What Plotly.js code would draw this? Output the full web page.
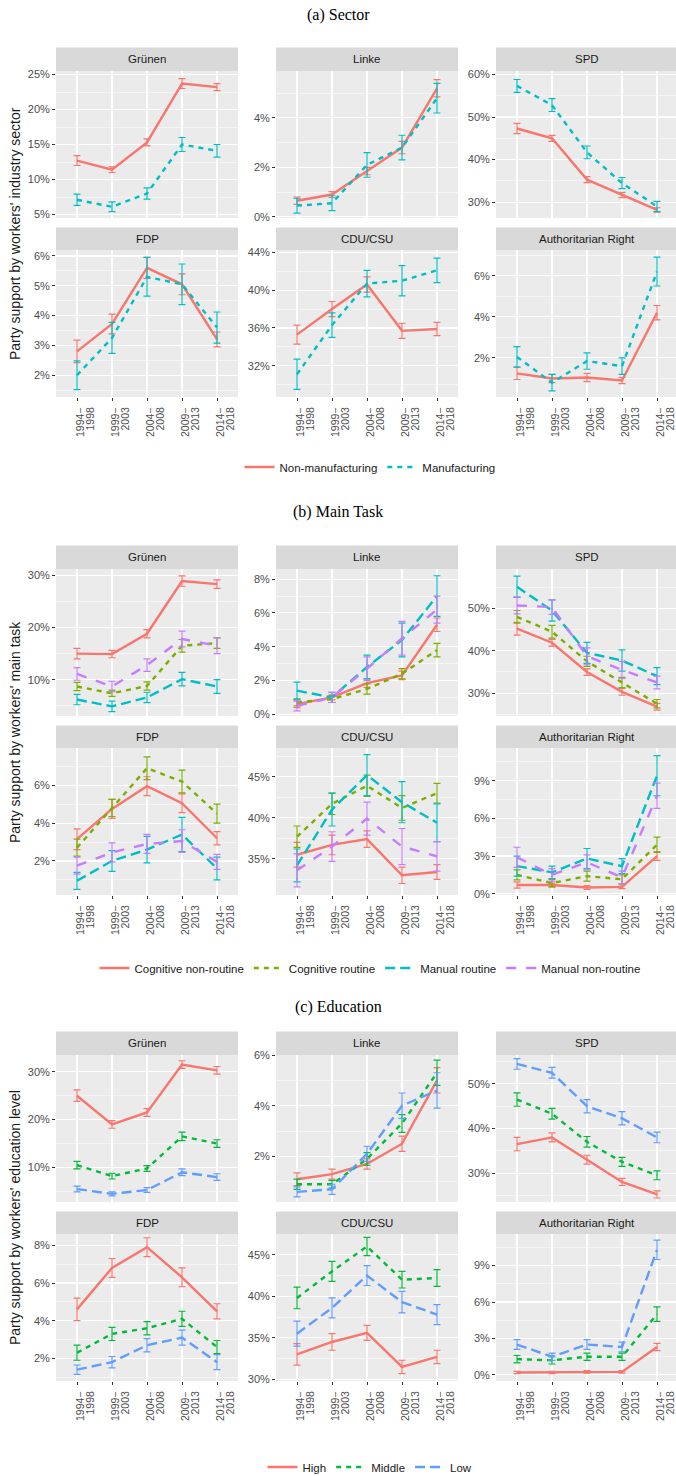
<!DOCTYPE html>
<html><head><meta charset="utf-8">
<script src="https://cdn.plot.ly/plotly-3.0.1.min.js"></script>
<style>html,body{margin:0;padding:0;overflow:hidden;background:#fff}#chart{width:680px;height:1490px}</style>
</head><body><div id="chart"></div>
<script>
// ---------- DATA ----------
const periods = ["1994-1998","1999-2003","2004-2008","2009-2013","2014-2018"];
const periodLabels = ["1994−<br>1998","1999−<br>2003","2004−<br>2008","2009−<br>2013","2014−<br>2018"];
const parties = ["Grünen","Linke","SPD","FDP","CDU/CSU","Authoritarian Right"];

// (a) Sector — rows follow `parties`, values in percent
const sectorGroups = ["Non-manufacturing","Manufacturing"];
const nonManufacturing = [
  [12.7,11.4,15.3,23.7,23.2],[0.65,0.9,1.85,2.8,5.2],[47.3,45.0,35.3,31.7,28.2],
  [2.8,3.72,5.6,5.05,3.2],[35.3,38.0,40.6,35.7,35.9],[1.25,1.0,1.05,0.9,4.2]];
const nonManufacturingErr = [
  [0.7,0.4,0.5,0.7,0.5],[0.15,0.12,0.15,0.25,0.35],[1.2,0.7,0.7,0.6,0.5],
  [0.38,0.33,0.35,0.35,0.25],[1.0,0.8,0.8,0.8,0.7],[0.3,0.2,0.2,0.15,0.35]];
const manufacturing = [
  [7.1,6.1,8.0,15.0,14.1],[0.45,0.55,2.1,2.8,4.8],[57.3,52.8,41.7,34.5,29.0],
  [2.0,3.25,5.3,5.05,3.6],[31.1,36.3,40.7,41.0,42.1],[2.05,0.8,1.85,1.6,6.2]];
const manufacturingErr = [
  [0.8,0.7,0.8,1.0,0.9],[0.3,0.3,0.5,0.5,0.6],[1.5,1.5,1.5,1.3,1.2],
  [0.48,0.52,0.65,0.68,0.52],[1.6,1.3,1.4,1.6,1.3],[0.5,0.4,0.4,0.4,0.7]];

// (b) Main task
const taskGroups = ["Cognitive non-routine","Cognitive routine","Manual routine","Manual non-routine"];
const cognitiveNonRoutine = [
  [15.0,14.9,18.8,28.9,28.3],[0.6,1.0,1.85,2.3,5.3],[45.2,41.9,35.0,30.3,26.8],
  [3.15,4.75,5.95,5.05,3.2],[35.5,36.7,37.4,33.0,33.4],[0.7,0.7,0.5,0.55,3.0]];
const cognitiveNonRoutineErr = [
  [1.0,0.7,0.8,1.0,0.8],[0.2,0.15,0.25,0.25,0.4],[1.5,0.8,0.8,0.8,0.8],
  [0.55,0.5,0.5,0.5,0.35],[1.5,1.2,1.0,1.0,0.9],[0.25,0.15,0.15,0.15,0.35]];
const cognitiveRoutine = [
  [8.7,7.4,8.8,16.5,17.0],[0.7,0.9,1.5,2.4,3.8],[48.0,44.5,37.5,32.5,27.5],
  [2.7,4.8,6.9,6.2,4.5],[37.7,41.7,43.9,41.2,43.0],[1.5,0.85,1.4,1.15,3.9]];
const cognitiveRoutineErr = [
  [0.8,0.6,0.8,1.2,1.0],[0.2,0.2,0.3,0.3,0.4],[1.5,1.5,1.2,1.2,1.0],
  [0.45,0.45,0.6,0.6,0.5],[1.3,1.3,1.3,1.5,1.2],[0.4,0.3,0.4,0.35,0.6]];
const manualRoutine = [
  [6.2,4.9,6.6,10.1,8.7],[1.4,1.0,2.8,4.4,7.0],[55.1,49.5,39.5,37.7,34.0],
  [0.95,2.0,2.6,3.4,1.6],[34.2,41.0,45.2,41.9,39.4],[2.2,1.7,2.8,2.2,9.4]];
const manualRoutineErr = [
  [1.0,1.0,1.0,1.3,1.3],[0.5,0.3,0.7,1.0,1.2],[2.5,2.5,2.5,2.5,2.0],
  [0.45,0.55,0.7,0.9,0.6],[2.0,2.0,2.5,2.5,2.3],[0.8,0.5,0.8,0.6,1.6]];
const manualNonRoutine = [
  [11.1,8.7,12.8,17.8,16.5],[0.5,1.0,2.7,4.5,6.2],[50.7,50.3,38.7,35.5,32.5],
  [1.75,2.45,2.9,3.05,1.95],[33.6,36.5,39.9,36.5,35.3],[2.9,1.5,2.5,1.3,7.8]];
const manualNonRoutineErr = [
  [1.2,1.0,1.2,1.5,1.5],[0.3,0.3,0.7,1.0,0.8],[2.0,1.7,2.0,2.0,1.5],
  [0.45,0.5,0.5,0.6,0.4],[2.0,1.8,2.0,2.2,1.8],[0.8,0.5,0.6,0.5,1.0]];

// (c) Education
const eduGroups = ["High","Middle","Low"];
const eduHigh = [
  [25.0,19.0,21.5,31.5,30.3],[1.1,1.3,1.7,2.5,5.0],[36.5,38.0,33.0,28.0,25.2],
  [4.6,6.8,7.9,6.3,4.5],[33.0,34.5,35.6,31.5,32.7],[0.2,0.2,0.25,0.25,2.3]];
const eduHighErr = [
  [1.2,0.8,0.8,0.8,0.8],[0.25,0.2,0.2,0.3,0.5],[1.5,1.0,1.0,0.8,0.8],
  [0.6,0.5,0.5,0.5,0.4],[1.3,1.0,0.9,0.8,0.8],[0.1,0.1,0.1,0.1,0.3]];
const eduMiddle = [
  [10.5,8.2,9.8,16.5,15.0],[0.9,0.9,1.9,3.3,5.3],[46.5,43.3,37.0,32.5,29.5],
  [2.3,3.3,3.6,4.1,2.6],[39.8,43.0,46.0,42.0,42.2],[1.3,1.2,1.5,1.5,5.0]];
const eduMiddleErr = [
  [0.8,0.6,0.6,0.9,0.8],[0.2,0.15,0.25,0.35,0.5],[1.5,1.2,1.2,1.0,1.0],
  [0.4,0.35,0.35,0.4,0.35],[1.3,1.2,1.1,1.0,1.0],[0.3,0.3,0.3,0.3,0.6]];
const eduLow = [
  [5.5,4.5,5.3,9.0,8.0],[0.6,0.7,2.1,4.0,4.6],[54.5,52.5,45.0,42.3,38.0],
  [1.4,1.8,2.7,3.1,1.8],[35.5,38.6,42.5,39.3,37.8],[2.5,1.5,2.5,2.3,10.3]];
const eduLowErr = [
  [0.6,0.4,0.5,0.7,0.7],[0.2,0.2,0.3,0.5,0.7],[1.2,1.2,1.5,1.5,1.2],
  [0.25,0.3,0.35,0.4,0.4],[1.5,1.2,1.2,1.3,1.2],[0.4,0.3,0.4,0.4,0.8]];

// ---------- LAYOUT / STYLE ----------
const W = 680, H = 1490;   // page window is 676x1476; the overflow is clipped
const FONT = "Liberation Sans, Arial, sans-serif";
const colPx = [[56,238],[276,458],[496,678]];
const stripRel = [[47.5,71],[227.5,250]];
const plotRel  = [[71,218],[250,397]];

const panels = [
  { title:"(a) Sector", titleY:15, off:0, legendY:467,
    ytitle:"Party support by workers' industry sector",
    groups:[
      {name:sectorGroups[0], v:nonManufacturing, e:nonManufacturingErr, color:"#F8766D", dash:"solid"},
      {name:sectorGroups[1], v:manufacturing, e:manufacturingErr, color:"#00BFC4", dash:"5px,5px"}],
    ranges:[[4.5,25.5],[-0.05,5.9],[26.3,60.8],[1.27,6.2],[28.7,44.25],[0.1,7.25]],
    dticks:[5,2,10,1,4,2] },
  { title:"(b) Main Task", titleY:512, off:498, legendY:968,
    ytitle:"Party support by workers' main task",
    groups:[
      {name:taskGroups[0], v:cognitiveNonRoutine, e:cognitiveNonRoutineErr, color:"#F8766D", dash:"solid"},
      {name:taskGroups[1], v:cognitiveRoutine, e:cognitiveRoutineErr, color:"#7CAE00", dash:"5px,5px"},
      {name:taskGroups[2], v:manualRoutine, e:manualRoutineErr, color:"#00BFC4", dash:"10px,5px"},
      {name:taskGroups[3], v:manualNonRoutine, e:manualNonRoutineErr, color:"#C77CFF", dash:"10px,10px"}],
    ranges:[[3.05,31.2],[-0.1,8.6],[24.6,59.3],[0.2,7.97],[30.6,48.5],[-0.1,11.6]],
    dticks:[10,2,10,2,5,3] },
  { title:"(c) Education", titleY:1007, off:984, legendY:1467,
    ytitle:"Party support by workers' education level",
    groups:[
      {name:eduGroups[0], v:eduHigh, e:eduHighErr, color:"#F8766D", dash:"solid"},
      {name:eduGroups[1], v:eduMiddle, e:eduMiddleErr, color:"#00BA38", dash:"5px,5px"},
      {name:eduGroups[2], v:eduLow, e:eduLowErr, color:"#619CFF", dash:"10px,5px"}],
    ranges:[[2.8,33.5],[0.2,6.0],[23.5,56.5],[0.8,8.6],[29.8,47.5],[-0.5,11.6]],
    dticks:[10,2,10,2,5,3] }
];

const traces = [];
const layout = {
  width: W, height: H, margin:{l:0,r:0,t:0,b:0},
  paper_bgcolor:"#FFFFFF", plot_bgcolor:"#EBEBEB",
  font:{family:FONT, color:"#4D4D4D"},
  showlegend:true, shapes:[], annotations:[]
};
const legendNames = ["legend","legend2","legend3"];

panels.forEach((p, pi) => {
  layout[legendNames[pi]] = {
    orientation:"h", x:370/W, xanchor:"center", y:1-p.legendY/H, yanchor:"middle",
    font:{family:FONT, size:11.5, color:"#1A1A1A"}, bgcolor:"rgba(0,0,0,0)",
    itemclick:false, itemdoubleclick:false, tracegroupgap:0
  };
  layout.annotations.push({text:p.title, xref:"paper", yref:"paper", x:338/W, y:1-p.titleY/H,
    xanchor:"center", yanchor:"middle", showarrow:false,
    font:{family:"Liberation Serif, Times New Roman, serif", size:16, color:"#000"}});
  layout.annotations.push({text:p.ytitle, xref:"paper", yref:"paper", x:15/W,
    y:1-(p.off+234)/H, xanchor:"center", yanchor:"middle", textangle:-90, showarrow:false,
    font:{family:FONT, size:14, color:"#1A1A1A"}});

  parties.forEach((party, f) => {
    const k = pi*6 + f + 1;
    const row = Math.floor(f/3), col = f % 3;
    const [x0,x1] = colPx[col];
    const py0 = p.off + plotRel[row][0], py1 = p.off + plotRel[row][1];
    const sy0 = p.off + stripRel[row][0], sy1 = p.off + stripRel[row][1];
    const xa = "xaxis"+(k===1?"":k), ya = "yaxis"+(k===1?"":k);
    const xr = "x"+(k===1?"":k), yr = "y"+(k===1?"":k);
    layout[xa] = {
      domain:[x0/W, Math.min(1,x1/W)], anchor:yr, type:"category",
      categoryorder:"array", categoryarray:periods, range:[-0.6,4.6],
      tickmode:"array", tickvals:periods, showticklabels:false,
      ticks:row===1?"outside":"", ticklen:3, tickwidth:1, tickcolor:"#333333",
      showgrid:true, gridcolor:"#FFFFFF", gridwidth:1.1, zeroline:false, showline:false, fixedrange:true
    };
    const dt = p.dticks[f];
    layout[ya] = {
      domain:[1-py1/H, 1-py0/H], anchor:xr, range:p.ranges[f], tickmode:"linear", tick0:0, dtick:dt,
      ticksuffix:"%", ticks:"outside", ticklen:3, tickwidth:1, tickcolor:"#333333",
      tickfont:{family:FONT, size:11, color:"#4D4D4D"},
      showgrid:true, gridcolor:"#FFFFFF", gridwidth:1.1, zeroline:false, showline:false,
      minor:{tick0:0, dtick:dt/2, showgrid:true, gridcolor:"#FFFFFF", gridwidth:0.5, ticks:""},
      fixedrange:true
    };
    layout.shapes.push({type:"rect", xref:"paper", yref:"paper", x0:x0/W, x1:Math.min(1,x1/W),
      y0:1-sy1/H, y1:1-sy0/H, fillcolor:"#D9D9D9", line:{width:0}, layer:"below"});
    layout.annotations.push({text:party, xref:"paper", yref:"paper", x:(x0+x1)/2/W,
      y:1-(sy0+sy1)/2/H, xanchor:"center", yanchor:"middle", showarrow:false,
      font:{family:FONT, size:11.5, color:"#1A1A1A"}});

    // rotated two-line period labels under the bottom row
    if (row === 1) {
      periods.forEach((per, i) => {
        periodLabels[i].split("<br>").forEach((line, li) => {
          layout.annotations.push({text:line, xref:xr, yref:"paper", x:per, xshift:3+li*9.5,
            y:1-(py1+9)/H, xanchor:"center", yanchor:"top", textangle:-90, showarrow:false,
            borderpad:0, font:{family:FONT, size:10.5, color:"#4D4D4D"}});
        });
      });
    }

    p.groups.forEach((g) => {
      traces.push({
        type:"scatter", mode:"lines", x:periods, y:g.v[f], name:g.name,
        xaxis:xr, yaxis:yr, legend:legendNames[pi], showlegend:f===0,
        line:{color:g.color, width:2.4, dash:g.dash},
        error_y:{type:"data", array:g.e[f], visible:true, color:g.color, thickness:1.2, width:3.5},
        hoverinfo:"skip"
      });
    });
  });
});

Plotly.newPlot("chart", traces, layout, {staticPlot:true, displayModeBar:false});
</script></body></html>
